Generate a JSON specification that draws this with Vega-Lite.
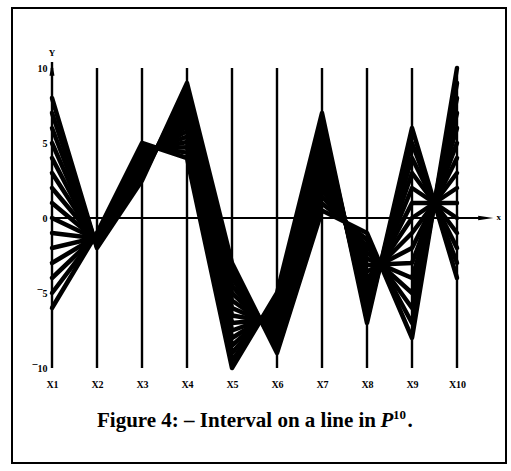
{
  "$schema": "https://vega.github.io/schema/vega-lite/v6.json",
  "width": 494,
  "height": 455,
  "autosize": {"type": "none"},
  "padding": {"left": 12, "top": 8, "right": 5, "bottom": 8},
  "background": "white",
  "config": {
    "view": {"stroke": "black", "strokeWidth": 2},
    "axis": {"grid": false, "domain": false, "ticks": false, "tickSize": 0, "labelPadding": 0, "labelFont": "Liberation Serif", "labelFontWeight": "bold", "labelFontSize": 10, "labelColor": "black"}
  },
  "datasets": {
    "axes": [{"axis":1},{"axis":2},{"axis":3},{"axis":4},{"axis":5},{"axis":6},{"axis":7},{"axis":8},{"axis":9},{"axis":10}],
    "lines": [
      {"line":0,"axis":1,"value":8},{"line":0,"axis":2,"value":-2},{"line":0,"axis":3,"value":2.5},{"line":0,"axis":4,"value":9},{"line":0,"axis":5,"value":-3},{"line":0,"axis":6,"value":-9},{"line":0,"axis":7,"value":0.5},{"line":0,"axis":8,"value":-1},{"line":0,"axis":9,"value":-8},{"line":0,"axis":10,"value":10},
      {"line":1,"axis":1,"value":7},{"line":1,"axis":2,"value":-1.93},{"line":1,"axis":3,"value":2.68},{"line":1,"axis":4,"value":8.64},{"line":1,"axis":5,"value":-3.5},{"line":1,"axis":6,"value":-8.71},{"line":1,"axis":7,"value":0.96},{"line":1,"axis":8,"value":-1.43},{"line":1,"axis":9,"value":-7},{"line":1,"axis":10,"value":9},
      {"line":2,"axis":1,"value":6},{"line":2,"axis":2,"value":-1.86},{"line":2,"axis":3,"value":2.86},{"line":2,"axis":4,"value":8.29},{"line":2,"axis":5,"value":-4},{"line":2,"axis":6,"value":-8.43},{"line":2,"axis":7,"value":1.43},{"line":2,"axis":8,"value":-1.86},{"line":2,"axis":9,"value":-6},{"line":2,"axis":10,"value":8},
      {"line":3,"axis":1,"value":5},{"line":3,"axis":2,"value":-1.79},{"line":3,"axis":3,"value":3.04},{"line":3,"axis":4,"value":7.93},{"line":3,"axis":5,"value":-4.5},{"line":3,"axis":6,"value":-8.14},{"line":3,"axis":7,"value":1.89},{"line":3,"axis":8,"value":-2.29},{"line":3,"axis":9,"value":-5},{"line":3,"axis":10,"value":7},
      {"line":4,"axis":1,"value":4},{"line":4,"axis":2,"value":-1.71},{"line":4,"axis":3,"value":3.21},{"line":4,"axis":4,"value":7.57},{"line":4,"axis":5,"value":-5},{"line":4,"axis":6,"value":-7.86},{"line":4,"axis":7,"value":2.36},{"line":4,"axis":8,"value":-2.71},{"line":4,"axis":9,"value":-4},{"line":4,"axis":10,"value":6},
      {"line":5,"axis":1,"value":3},{"line":5,"axis":2,"value":-1.64},{"line":5,"axis":3,"value":3.39},{"line":5,"axis":4,"value":7.21},{"line":5,"axis":5,"value":-5.5},{"line":5,"axis":6,"value":-7.57},{"line":5,"axis":7,"value":2.82},{"line":5,"axis":8,"value":-3.14},{"line":5,"axis":9,"value":-3},{"line":5,"axis":10,"value":5},
      {"line":6,"axis":1,"value":2},{"line":6,"axis":2,"value":-1.57},{"line":6,"axis":3,"value":3.57},{"line":6,"axis":4,"value":6.86},{"line":6,"axis":5,"value":-6},{"line":6,"axis":6,"value":-7.29},{"line":6,"axis":7,"value":3.29},{"line":6,"axis":8,"value":-3.57},{"line":6,"axis":9,"value":-2},{"line":6,"axis":10,"value":4},
      {"line":7,"axis":1,"value":1},{"line":7,"axis":2,"value":-1.5},{"line":7,"axis":3,"value":3.75},{"line":7,"axis":4,"value":6.5},{"line":7,"axis":5,"value":-6.5},{"line":7,"axis":6,"value":-7},{"line":7,"axis":7,"value":3.75},{"line":7,"axis":8,"value":-4},{"line":7,"axis":9,"value":-1},{"line":7,"axis":10,"value":3},
      {"line":8,"axis":1,"value":0},{"line":8,"axis":2,"value":-1.43},{"line":8,"axis":3,"value":3.93},{"line":8,"axis":4,"value":6.14},{"line":8,"axis":5,"value":-7},{"line":8,"axis":6,"value":-6.71},{"line":8,"axis":7,"value":4.21},{"line":8,"axis":8,"value":-4.43},{"line":8,"axis":9,"value":0},{"line":8,"axis":10,"value":2},
      {"line":9,"axis":1,"value":-1},{"line":9,"axis":2,"value":-1.36},{"line":9,"axis":3,"value":4.11},{"line":9,"axis":4,"value":5.79},{"line":9,"axis":5,"value":-7.5},{"line":9,"axis":6,"value":-6.43},{"line":9,"axis":7,"value":4.68},{"line":9,"axis":8,"value":-4.86},{"line":9,"axis":9,"value":1},{"line":9,"axis":10,"value":1},
      {"line":10,"axis":1,"value":-2},{"line":10,"axis":2,"value":-1.29},{"line":10,"axis":3,"value":4.29},{"line":10,"axis":4,"value":5.43},{"line":10,"axis":5,"value":-8},{"line":10,"axis":6,"value":-6.14},{"line":10,"axis":7,"value":5.14},{"line":10,"axis":8,"value":-5.29},{"line":10,"axis":9,"value":2},{"line":10,"axis":10,"value":0},
      {"line":11,"axis":1,"value":-3},{"line":11,"axis":2,"value":-1.21},{"line":11,"axis":3,"value":4.46},{"line":11,"axis":4,"value":5.07},{"line":11,"axis":5,"value":-8.5},{"line":11,"axis":6,"value":-5.86},{"line":11,"axis":7,"value":5.61},{"line":11,"axis":8,"value":-5.71},{"line":11,"axis":9,"value":3},{"line":11,"axis":10,"value":-1},
      {"line":12,"axis":1,"value":-4},{"line":12,"axis":2,"value":-1.14},{"line":12,"axis":3,"value":4.64},{"line":12,"axis":4,"value":4.71},{"line":12,"axis":5,"value":-9},{"line":12,"axis":6,"value":-5.57},{"line":12,"axis":7,"value":6.07},{"line":12,"axis":8,"value":-6.14},{"line":12,"axis":9,"value":4},{"line":12,"axis":10,"value":-2},
      {"line":13,"axis":1,"value":-5},{"line":13,"axis":2,"value":-1.07},{"line":13,"axis":3,"value":4.82},{"line":13,"axis":4,"value":4.36},{"line":13,"axis":5,"value":-9.5},{"line":13,"axis":6,"value":-5.29},{"line":13,"axis":7,"value":6.54},{"line":13,"axis":8,"value":-6.57},{"line":13,"axis":9,"value":5},{"line":13,"axis":10,"value":-3},
      {"line":14,"axis":1,"value":-6},{"line":14,"axis":2,"value":-1},{"line":14,"axis":3,"value":5},{"line":14,"axis":4,"value":4},{"line":14,"axis":5,"value":-10},{"line":14,"axis":6,"value":-5},{"line":14,"axis":7,"value":7},{"line":14,"axis":8,"value":-7},{"line":14,"axis":9,"value":6},{"line":14,"axis":10,"value":-4}
    ]
  },
  "layer": [
    {
      "data": {"name": "lines"},
      "mark": {"type": "line", "color": "black", "strokeWidth": 4.5, "strokeCap": "round", "strokeJoin": "round"},
      "encoding": {
        "x": {"field": "axis", "type": "quantitative", "title": null,
              "scale": {"domain": [0.1111, 11.0889], "nice": false, "zero": false},
              "axis": {"values": [1,2,3,4,5,6,7,8,9,10], "labelExpr": "'X' + datum.value", "offset": -84, "labelBaseline": "top"}},
        "y": {"field": "value", "type": "quantitative", "title": null,
              "scale": {"domain": [-16.3333, 14], "nice": false, "zero": false},
              "axis": {"values": [-10,-5,0,5,10], "labelExpr": "datum.value < 0 ? '¯' + abs(datum.value) : datum.label", "offset": -35}},
        "detail": {"field": "line", "type": "nominal"},
        "order": {"field": "axis", "type": "quantitative"}
      }
    },
    {
      "data": {"name": "axes"},
      "mark": {"type": "rule", "color": "black", "strokeWidth": 2.4},
      "encoding": {
        "x": {"field": "axis", "type": "quantitative", "title": null},
        "y": {"datum": -10, "type": "quantitative", "title": null},
        "y2": {"datum": 10}
      }
    },
    {
      "data": {"values": [{}]},
      "mark": {"type": "rule", "color": "black", "strokeWidth": 2.2},
      "encoding": {
        "x": {"datum": 1, "type": "quantitative", "title": null},
        "x2": {"datum": 10.6},
        "y": {"datum": 0, "type": "quantitative", "title": null}
      }
    },
    {
      "data": {"values": [{}]},
      "mark": {"type": "rule", "color": "black", "strokeWidth": 2.4},
      "encoding": {
        "x": {"datum": 1, "type": "quantitative", "title": null},
        "y": {"datum": 9.9, "type": "quantitative", "title": null},
        "y2": {"datum": 10.4}
      }
    },
    {
      "data": {"values": [{}]},
      "mark": {"type": "point", "filled": true, "color": "black", "opacity": 1, "size": 200, "shape": "M -0.35 1 L 0 -1 L 0.35 1 Z"},
      "encoding": {
        "x": {"datum": 1, "type": "quantitative", "title": null},
        "y": {"datum": 9.95, "type": "quantitative", "title": null}
      }
    },
    {
      "data": {"values": [{}]},
      "mark": {"type": "point", "filled": true, "color": "black", "opacity": 1, "size": 230, "shape": "M -1 -0.3 L 1 0 L -1 0.3 Z"},
      "encoding": {
        "x": {"datum": 10.64, "type": "quantitative", "title": null},
        "y": {"datum": 0, "type": "quantitative", "title": null}
      }
    },
    {
      "data": {"values": [{"label": "Y", "px": 1, "py": 11}, {"label": "x", "px": 10.93, "py": 0.05}]},
      "mark": {"type": "text", "font": "Liberation Serif", "fontWeight": "bold", "fontSize": 9, "color": "black", "baseline": "middle", "align": "center"},
      "encoding": {
        "x": {"field": "px", "type": "quantitative", "title": null},
        "y": {"field": "py", "type": "quantitative", "title": null},
        "text": {"field": "label"}
      }
    },
    {
      "data": {"values": [{"caption": "Figure 4: – Interval on a line in", "px": 8.2, "py": -13.93}]},
      "mark": {"type": "text", "font": "Liberation Serif", "fontWeight": "bold", "fontSize": 21, "color": "black", "baseline": "alphabetic", "align": "right"},
      "encoding": {
        "x": {"field": "px", "type": "quantitative", "title": null},
        "y": {"field": "py", "type": "quantitative", "title": null},
        "text": {"field": "caption"}
      }
    },
    {
      "data": {"values": [{"caption": "P", "px": 8.3, "py": -13.93}]},
      "mark": {"type": "text", "font": "Liberation Serif", "fontWeight": "bold", "fontStyle": "italic", "fontSize": 21, "color": "black", "baseline": "alphabetic", "align": "left"},
      "encoding": {
        "x": {"field": "px", "type": "quantitative", "title": null},
        "y": {"field": "py", "type": "quantitative", "title": null},
        "text": {"field": "caption"}
      }
    },
    {
      "data": {"values": [{"caption": "10", "px": 8.58, "py": -13.4}]},
      "mark": {"type": "text", "font": "Liberation Serif", "fontWeight": "bold", "fontSize": 13, "color": "black", "baseline": "alphabetic", "align": "left"},
      "encoding": {
        "x": {"field": "px", "type": "quantitative", "title": null},
        "y": {"field": "py", "type": "quantitative", "title": null},
        "text": {"field": "caption"}
      }
    },
    {
      "data": {"values": [{"caption": ".", "px": 8.9, "py": -13.93}]},
      "mark": {"type": "text", "font": "Liberation Serif", "fontWeight": "bold", "fontSize": 21, "color": "black", "baseline": "alphabetic", "align": "left"},
      "encoding": {
        "x": {"field": "px", "type": "quantitative", "title": null},
        "y": {"field": "py", "type": "quantitative", "title": null},
        "text": {"field": "caption"}
      }
    }
  ]
}
